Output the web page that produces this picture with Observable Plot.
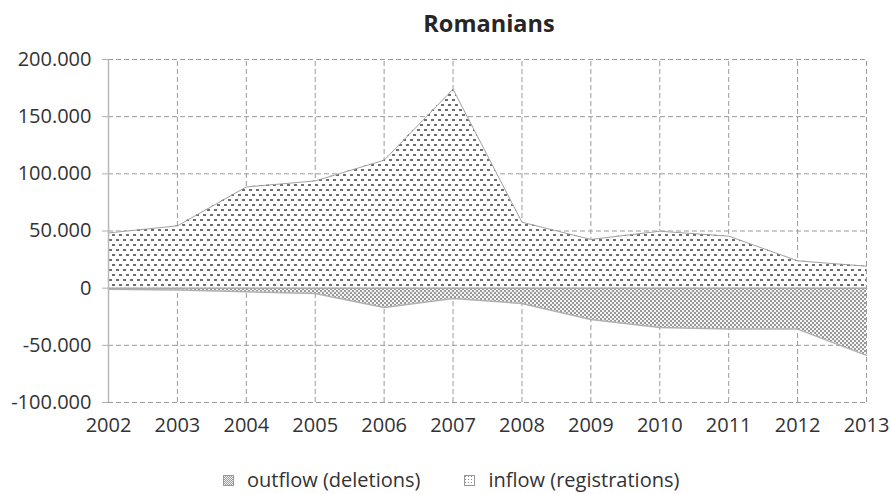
<!DOCTYPE html>
<html><head><meta charset="utf-8">
<script src="https://cdn.jsdelivr.net/npm/d3@7"></script>
<script src="https://cdn.jsdelivr.net/npm/@observablehq/plot@0.6"></script>
<style>
body{margin:0;background:#fff;font-family:"Open Sans",sans-serif;}
#wrap{position:relative;width:891px;height:494px;overflow:hidden;background:#fff;}
#title{position:absolute;top:7px;left:0;width:978px;text-align:center;font-weight:bold;font-size:23.5px;color:#262626;line-height:32px;}
#chart{position:absolute;top:44px;left:0;}
#legend{position:absolute;top:465px;left:223px;font-size:20px;color:#333;white-space:nowrap;line-height:27px;height:27px;}
#legend span.item{display:inline-flex;align-items:center;margin-right:44px;}
#legend svg{margin-right:13px;margin-top:3px;}
</style>
</head><body>
<div id="wrap">
  <div id="title">Romanians</div>
  <div id="chart"></div>
  <div id="legend"></div>
</div>
<script>
const years = [2002, 2003, 2004, 2005, 2006, 2007, 2008, 2009, 2010, 2011, 2012, 2013];
const inflow = [48300, 54500, 88500, 93800, 111900, 174000, 57700, 42600, 49800, 45500, 23900, 19200];
const outflow = [-1000, -1600, -3200, -4600, -16900, -9000, -13400, -27400, -34400, -35800, -35800, -58800];
const yTicks = [-100000, -50000, 0, 50000, 100000, 150000, 200000];
const yTickLabels = ["-100.000", "-50.000", "0", "50.000", "100.000", "150.000", "200.000"];
const seriesNames = ["outflow (deletions)", "inflow (registrations)"];

const data = years.map((year, i) => ({year, inflow: inflow[i], outflow: outflow[i]}));

const plot = Plot.plot({
  width: 891,
  height: 406,
  marginLeft: 108,
  marginRight: 25,
  marginTop: 15,
  marginBottom: 48,
  x: {type: "linear", domain: [2002, 2013], label: null},
  y: {domain: [-100000, 200000], label: null},
  style: {fontFamily: "Open Sans", fontSize: "20px", color: "#333", background: "white"},
  marks: [
    Plot.ruleX(years, {y1: -100000, y2: 200000, stroke: "#9a9a9a", strokeDasharray: "5,3"}),
    Plot.ruleY(yTicks, {stroke: "#9a9a9a", strokeDasharray: "5,3"}),
    Plot.areaY(data, {x: "year", y: "inflow", fill: "#010101"}),
    Plot.lineY(data, {x: "year", y: "inflow", stroke: "#a0a0a0", strokeWidth: 1}),
    Plot.areaY(data, {x: "year", y: "outflow", fill: "#020202"}),
    Plot.lineY(data, {x: "year", y: "outflow", stroke: "#b0b0b0", strokeWidth: 1.5}),
    Plot.ruleY([0], {stroke: "#aaaaaa", strokeWidth: 1.5}),
    Plot.ruleX([2002], {stroke: "#b8b8b8", strokeWidth: 1.5}),
    Plot.axisX({ticks: years, tickFormat: d => String(d), tickSize: 0, tickPadding: 15, fill: "#333"}),
    Plot.axisY({ticks: yTicks, tickFormat: d => yTickLabels[yTicks.indexOf(d)], tickSize: 6, tickPadding: 11, stroke: "#b0b0b0", fill: "#333"})
  ]
});

function addPatterns(svgNode, prefix, small) {
  const svg = d3.select(svgNode);
  const defs = svg.insert("defs", ":first-child");
  const tw = small ? 3 : 7, th = small ? 3 : 10;
  const dots = defs.append("pattern").attr("id", prefix + "dots").attr("patternUnits", "userSpaceOnUse").attr("width", tw).attr("height", th);
  dots.append("rect").attr("width", tw).attr("height", th).attr("fill", "white");
  if (small) {
    dots.append("rect").attr("x", 1).attr("y", 1).attr("width", 1).attr("height", 1).attr("fill", "#8a8a8a");
  } else {
    dots.append("rect").attr("x", 0).attr("y", 0).attr("width", 3).attr("height", 2).attr("fill", "#6e6e6e");
    dots.append("rect").attr("x", 4).attr("y", 5).attr("width", 3).attr("height", 2).attr("fill", "#6e6e6e");
  }
  const cs = small ? 1 : 2;
  const chk = defs.append("pattern").attr("id", prefix + "chk").attr("patternUnits", "userSpaceOnUse").attr("width", 2 * cs).attr("height", 2 * cs);
  chk.append("rect").attr("width", 2 * cs).attr("height", 2 * cs).attr("fill", "#999999");
  chk.append("rect").attr("x", 0).attr("y", 0).attr("width", cs).attr("height", cs).attr("fill", "#f4f4f4");
  chk.append("rect").attr("x", cs).attr("y", cs).attr("width", cs).attr("height", cs).attr("fill", "#f4f4f4");
}
addPatterns(plot, "p", false);
plot.querySelectorAll('[fill="#010101"]').forEach(n => n.setAttribute("fill", "url(#pdots)"));
plot.querySelectorAll('[fill="#020202"]').forEach(n => n.setAttribute("fill", "url(#pchk)"));
document.getElementById("chart").appendChild(plot);

const legend = d3.select("#legend");
seriesNames.forEach((name, i) => {
  const item = legend.append("span").attr("class", "item");
  const s = item.append("svg").attr("width", 11).attr("height", 11);
  addPatterns(s.node(), "l" + i, true);
  s.append("rect").attr("x", 0.5).attr("y", 0.5).attr("width", 10).attr("height", 10)
    .attr("fill", i === 0 ? "url(#l0chk)" : "url(#l1dots)").attr("stroke", "#999");
  item.append("span").text(name);
});
</script>
</body></html>
